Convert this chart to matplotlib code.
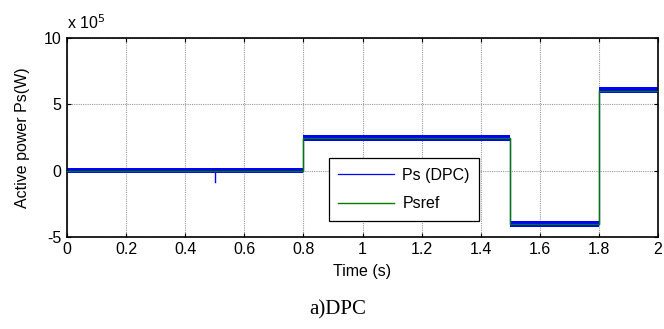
import matplotlib
matplotlib.use("Agg")
import matplotlib.pyplot as plt
import numpy as np

# Step instants (s) and power levels (W)
t_steps = [0.0, 0.8, 1.5, 1.8, 2.0]
psref_levels = [0.0, 2.42e5, -4.0e5, 6.0e5]
ps_levels = [0.0, 2.48e5, -4.05e5, 6.05e5]
ps_ripple = 0.22e5           # half-width of the switching ripple band
spike_time = 0.5
spike_value = -0.9e5

scale = 1e5
sans = ["Liberation Sans", "DejaVu Sans"]

fig = plt.figure(figsize=(6.64, 3.29), dpi=100)
ax = fig.add_axes([0.101, 0.280, 0.890, 0.605])

# Ps (DPC): ripple band around each level, thin transitions
for i, lvl in enumerate(ps_levels):
    t0, t1 = t_steps[i], t_steps[i + 1]
    ax.fill_between([t0, t1], (lvl - ps_ripple) / scale, (lvl + ps_ripple) / scale,
                    color="#0000ff", lw=0, zorder=2)
ps_t = np.repeat(t_steps, 2)[1:-1]
ps_y = np.repeat(ps_levels, 2) / scale
ax.plot(ps_t, ps_y, color="#0000ff", lw=0.9, zorder=2, label="Ps (DPC)")
ax.plot([spike_time, spike_time], [0, spike_value / scale], color="#0000ff", lw=1.0, zorder=2)

# Psref
ref_y = np.repeat(psref_levels, 2) / scale
ax.plot(ps_t, ref_y, color="#007a00", lw=1.0, zorder=3, label="Psref")

ax.set_xlim(0, 2)
ax.set_ylim(-5, 10)
ax.set_xticks(np.arange(0, 2.01, 0.2))
ax.set_xticklabels(["0", "0.2", "0.4", "0.6", "0.8", "1", "1.2", "1.4", "1.6", "1.8", "2"])
ax.set_yticks([-5, 0, 5, 10])
ax.set_yticklabels(["-5", "0", "5", "10"])
ax.tick_params(direction="in", top=True, right=True, length=3, width=0.8,
               labelsize=11.5, pad=4)
ax.grid(True, color="#999999", linestyle=(0, (1, 1)), linewidth=0.8)
for s in ax.spines.values():
    s.set_linewidth(1.2)

lab_font = dict(family=sans, size=11.5)
for lbl in ax.get_xticklabels() + ax.get_yticklabels():
    lbl.set_family(sans)
ax.set_xlabel("Time (s)", fontdict=lab_font, labelpad=5)
ax.set_ylabel("Active power Ps(W)", fontdict=lab_font, labelpad=10)
ax.text(0.0, 1.03, r"x 10$^5$", transform=ax.transAxes, ha="left", va="bottom",
        fontsize=11.5, family=sans)

leg = ax.legend(loc="upper left", bbox_to_anchor=(0.443, 0.395), frameon=True,
                fancybox=False, edgecolor="black", framealpha=1,
                prop={"family": sans, "size": 11.5},
                handlelength=3.5, handletextpad=0.5, borderpad=0.6,
                labelspacing=0.85, borderaxespad=0)
leg.get_frame().set_linewidth(0.9)

fig.text(0.508, 0.057, "a)DPC", ha="center", va="center",
         family=["Liberation Serif", "DejaVu Serif"], fontsize=15)

fig.savefig("out.png", dpi=100)
